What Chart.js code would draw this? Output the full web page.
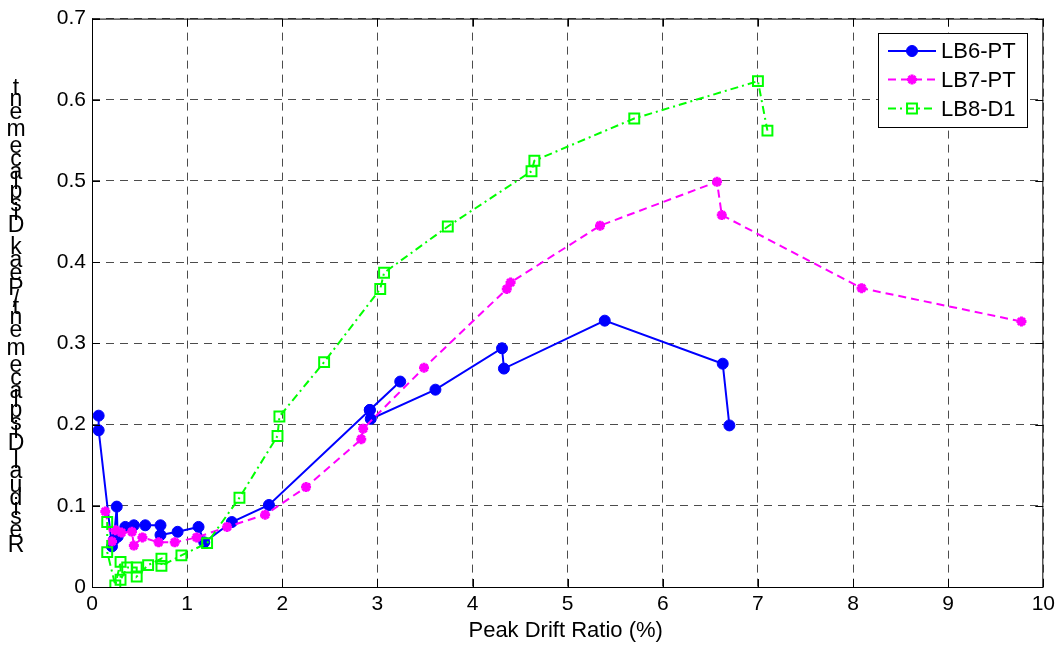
<!DOCTYPE html>
<html>
<head>
<meta charset="utf-8">
<script src="https://cdn.jsdelivr.net/npm/chart.js@4.4.0/dist/chart.umd.min.js"></script>
<style>
  body { margin: 0; background: #fff; }
  #wrap { width: 1060px; height: 645px; }
</style>
</head>
<body>
<div id="wrap"><canvas id="chart" width="1060" height="645"></canvas></div>
<script>
// ==================== DATA ====================
const seriesNames = ['LB6-PT', 'LB7-PT', 'LB8-D1'];

// LB6-PT (blue, solid, circles)
const lb6X = [0.07, 0.07, 0.21, 0.23, 0.26, 0.27, 0.35, 0.44, 0.56, 0.72, 0.72, 0.90, 1.12, 1.18, 1.47, 1.86, 2.92, 3.24, 2.92, 2.93, 3.61, 4.31, 4.33, 5.39, 6.63, 6.70];
const lb6Y = [0.211, 0.193, 0.050, 0.058, 0.099, 0.062, 0.074, 0.076, 0.076, 0.076, 0.064, 0.068, 0.074, 0.055, 0.080, 0.101, 0.218, 0.253, 0.218, 0.207, 0.243, 0.294, 0.269, 0.328, 0.275, 0.199];

// LB7-PT (magenta, dashed, stars)
const lb7X = [0.14, 0.21, 0.245, 0.31, 0.42, 0.44, 0.53, 0.70, 0.87, 1.10, 1.42, 1.82, 2.25, 2.83, 2.85, 3.49, 4.36, 4.40, 5.34, 6.57, 6.62, 8.09, 9.77];
const lb7Y = [0.093, 0.056, 0.070, 0.067, 0.068, 0.051, 0.061, 0.055, 0.055, 0.061, 0.074, 0.089, 0.123, 0.182, 0.195, 0.270, 0.367, 0.375, 0.445, 0.499, 0.458, 0.368, 0.327];

// LB8-D1 (green, dash-dot, squares)
const lb8X = [0.16, 0.16, 0.245, 0.30, 0.30, 0.37, 0.47, 0.47, 0.59, 0.73, 0.73, 0.94, 1.21, 1.55, 1.95, 1.97, 2.44, 3.03, 3.07, 3.74, 4.62, 4.65, 5.70, 7.00, 7.10];
const lb8Y = [0.080, 0.043, 0.002, 0.031, 0.009, 0.024, 0.024, 0.013, 0.027, 0.035, 0.026, 0.039, 0.054, 0.110, 0.186, 0.210, 0.277, 0.367, 0.387, 0.444, 0.512, 0.525, 0.577, 0.623, 0.562];

const xTicks = [0, 1, 2, 3, 4, 5, 6, 7, 8, 9, 10];
const yTicks = [0, 0.1, 0.2, 0.3, 0.4, 0.5, 0.6, 0.7];
const xTitle = 'Peak Drift Ratio (%)';
const yTitle = 'Residual Displacement/Peak Displacement';

const FONT = '"Liberation Sans", Arial, sans-serif';

function toPoints(xs, ys) {
    return xs.map((x, i) => ({ x: x, y: ys[i] }));
}

// dataset styles
const styles = [
    { color: '#0000FF', dash: [], pointStyle: 'circle', radius: 5.5, fill: '#0000FF', pbw: 1 },
    { color: '#FF00FF', dash: [8, 5], pointStyle: 'star', radius: 5, fill: '#FF00FF', pbw: 3 },
    { color: '#00FF00', dash: [8, 4, 2, 4], pointStyle: 'rect', radius: 7, fill: 'rgba(0,0,0,0)', pbw: 2 }
];

const allData = [toPoints(lb6X, lb6Y), toPoints(lb7X, lb7Y), toPoints(lb8X, lb8Y)];

const datasets = allData.map((d, i) => ({
    label: seriesNames[i],
    data: d,
    showLine: true,
    borderColor: styles[i].color,
    borderWidth: 2,
    borderDash: styles[i].dash,
    pointStyle: styles[i].pointStyle,
    pointRadius: styles[i].radius,
    pointBackgroundColor: styles[i].fill,
    pointBorderColor: styles[i].color,
    pointBorderWidth: styles[i].pbw,
    tension: 0,
    order: 2 - i
}));

// ==================== PLUGINS ====================
// box frame + inward ticks (MATLAB style)
const framePlugin = {
    id: 'frame',
    afterDatasetsDraw(chart) {
        const { ctx, chartArea: a, scales } = chart;
        ctx.save();
        ctx.strokeStyle = '#000';
        ctx.lineWidth = 1;
        ctx.setLineDash([]);
        ctx.strokeRect(a.left + 0.5, a.top + 0.5, a.right - a.left - 1, a.bottom - a.top);
        const len = 8;
        ctx.beginPath();
        xTicks.forEach(v => {
            const px = Math.round(scales.x.getPixelForValue(v)) + 0.5;
            ctx.moveTo(px, a.bottom); ctx.lineTo(px, a.bottom - len);
            ctx.moveTo(px, a.top); ctx.lineTo(px, a.top + len);
        });
        yTicks.forEach(v => {
            const py = Math.round(scales.y.getPixelForValue(v)) + 0.5;
            ctx.moveTo(a.left, py); ctx.lineTo(a.left + len, py);
            ctx.moveTo(a.right, py); ctx.lineTo(a.right - len, py);
        });
        ctx.stroke();
        ctx.restore();
    }
};

// axis titles (y label drawn as upright glyphs stacked bottom-to-top)
const titlePlugin = {
    id: 'titles',
    afterDraw(chart) {
        const { ctx, chartArea: a } = chart;
        ctx.save();
        ctx.fillStyle = '#000';
        ctx.font = '22px ' + FONT;
        ctx.textAlign = 'center';
        ctx.textBaseline = 'middle';
        ctx.fillText(xTitle, (a.left + a.right) / 2 - 2, 631);

        // y title
        ctx.font = '23px ' + FONT;
        const chars = yTitle.split('');
        const widths = chars.map(c => ctx.measureText(c).width);
        const centers = [];
        let acc = 0;
        widths.forEach(w => { centers.push(acc + w / 2); acc += w; });
        const first = centers[0], last = centers[centers.length - 1];
        const yBottom = 546, yTop = 89;
        chars.forEach((c, i) => {
            if (c === ' ') return;
            const t = (centers[i] - first) / (last - first);
            ctx.fillText(c, 16, yBottom - t * (yBottom - yTop));
        });
        ctx.restore();
    }
};

// legend box in the upper right corner
const legendPlugin = {
    id: 'legendBox',
    afterDraw(chart) {
        const { ctx } = chart;
        const bx = 878, by = 33, bw = 149, bh = 94;
        ctx.save();
        ctx.fillStyle = '#fff';
        ctx.fillRect(bx, by, bw, bh);
        ctx.strokeStyle = '#000';
        ctx.lineWidth = 1;
        ctx.strokeRect(bx + 0.5, by + 0.5, bw, bh);
        const rows = [51, 79.5, 108.5];
        seriesNames.forEach((name, i) => {
            const s = styles[i];
            const y = rows[i];
            ctx.strokeStyle = s.color;
            ctx.lineWidth = 2;
            ctx.setLineDash(s.dash);
            ctx.beginPath();
            ctx.moveTo(888, y); ctx.lineTo(936, y);
            ctx.stroke();
            ctx.setLineDash([]);
            ctx.fillStyle = s.fill;
            ctx.lineWidth = s.pbw;
            Chart.helpers.drawPoint(ctx, { pointStyle: s.pointStyle, radius: s.radius, borderWidth: s.pbw, rotation: 0 }, 912, y);
            ctx.fillStyle = '#000';
            ctx.font = '22px ' + FONT;
            ctx.textAlign = 'left';
            ctx.textBaseline = 'middle';
            ctx.fillText(name, 941, y + 1);
        });
        ctx.restore();
    }
};

// ==================== CHART ====================
document.addEventListener('DOMContentLoaded', function() {
    const ctx = document.getElementById('chart').getContext('2d');
    new Chart(ctx, {
        type: 'scatter',
        data: { datasets: datasets },
        options: {
            responsive: false,
            animation: false,
            layout: { padding: { left: 0, right: 15, top: 14, bottom: 0 } },
            plugins: {
                legend: { display: false },
                tooltip: { enabled: false }
            },
            scales: {
                x: {
                    type: 'linear',
                    min: 0,
                    max: 10,
                    afterFit: s => { s.height = 58; },
                    afterBuildTicks: s => { s.ticks = xTicks.map(v => ({ value: v })); },
                    ticks: {
                        color: '#000',
                        font: { size: 21, family: FONT },
                        padding: 5,
                        maxRotation: 0,
                        autoSkip: false,
                        callback: v => String(v)
                    },
                    grid: { color: 'rgba(0,0,0,0.7)', lineWidth: 1, drawTicks: false },
                    border: { display: false, dash: [8, 6] }
                },
                y: {
                    type: 'linear',
                    min: 0,
                    max: 0.7,
                    afterFit: s => { s.width = 92; },
                    afterBuildTicks: s => { s.ticks = yTicks.map(v => ({ value: v })); },
                    ticks: {
                        color: '#000',
                        font: { size: 21, family: FONT },
                        padding: 6,
                        autoSkip: false,
                        callback: v => String(Math.round(v * 10) / 10)
                    },
                    grid: { color: 'rgba(0,0,0,0.7)', lineWidth: 1, drawTicks: false },
                    border: { display: false, dash: [8, 6] }
                }
            }
        },
        plugins: [framePlugin, titlePlugin, legendPlugin]
    });
});
</script>
</body>
</html>
